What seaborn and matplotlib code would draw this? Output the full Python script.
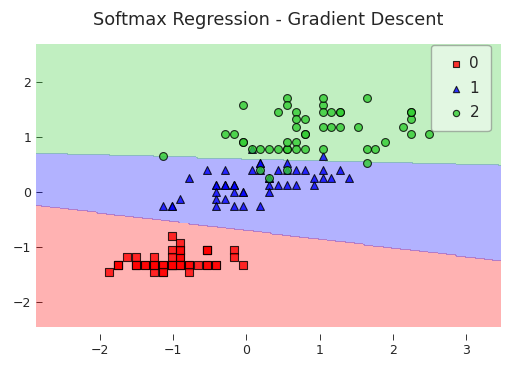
import numpy as np
import pandas as pd
import seaborn as sns
import matplotlib
matplotlib.use("Agg")
import matplotlib.pyplot as plt

# standardized iris features: sepal length (x) and petal width (y), per class
setosa_x = [-0.90, -1.14, -1.39, -1.51, -1.02, -0.54, -1.51, -1.02, -1.75, -1.14,
            -0.54, -1.26, -1.26, -1.87, -0.05, -0.17, -0.54, -0.90, -0.17, -0.90,
            -0.54, -0.90, -1.51, -0.90, -1.26, -1.02, -1.02, -0.78, -0.78, -1.39,
            -1.26, -0.54, -0.78, -0.42, -1.14, -1.02, -0.42, -1.14, -1.75, -0.90,
            -1.02, -1.63, -1.75, -1.02, -0.90, -1.26, -0.90, -1.51, -0.66, -1.02]
setosa_y = [-1.32, -1.32, -1.32, -1.32, -1.32, -1.05, -1.18, -1.32, -1.32, -1.45,
            -1.32, -1.32, -1.45, -1.45, -1.32, -1.05, -1.05, -1.18, -1.18, -1.18,
            -1.32, -1.05, -1.32, -0.92, -1.32, -1.32, -1.05, -1.32, -1.32, -1.32,
            -1.32, -1.05, -1.45, -1.32, -1.32, -1.32, -1.32, -1.45, -1.32, -1.32,
            -1.18, -1.18, -1.32, -0.79, -1.05, -1.18, -1.32, -1.32, -1.32, -1.32]

versicolor_x = [1.40, 0.67, 1.28, -0.42, 0.80, -0.17, 0.55, -1.14, 0.92, -0.78,
                -1.02, 0.07, 0.19, 0.31, -0.29, 1.04, -0.29, -0.05, 0.43, -0.29,
                0.07, 0.31, 0.55, 0.31, 0.67, 0.92, 1.16, 1.04, 0.19, -0.17,
                -0.42, -0.42, -0.05, 0.19, -0.54, 0.19, 1.04, 0.55, -0.29, -0.42,
                -0.42, 0.31, -0.05, -1.02, -0.29, -0.17, -0.17, 0.43, -0.90, -0.17]
versicolor_y = [0.26, 0.40, 0.40, 0.13, 0.40, 0.13, 0.53, -0.26, 0.13, 0.26,
                -0.26, 0.40, -0.26, 0.26, 0.13, 0.26, 0.40, -0.26, 0.40, -0.13,
                0.79, 0.13, 0.40, 0.00, 0.13, 0.26, 0.26, 0.66, 0.40, -0.26,
                -0.13, -0.26, 0.00, 0.53, 0.40, 0.53, 0.40, 0.13, 0.13, 0.13,
                0.00, 0.26, 0.00, -0.26, 0.13, 0.00, 0.13, 0.13, -0.13, 0.13]

virginica_x = [0.55, -0.05, 1.52, 0.55, 0.80, 2.13, -1.14, 1.76, 1.04, 1.64,
               0.80, 0.67, 1.16, -0.17, -0.05, 0.67, 0.80, 2.25, 2.25, 0.19,
               1.28, -0.29, 2.25, 0.55, 1.04, 1.64, 0.43, 0.31, 0.67, 1.64,
               1.89, 2.49, 0.67, 0.55, 0.31, 2.25, 0.55, 0.67, 0.19, 1.28,
               1.04, 1.28, -0.05, 1.16, 1.04, 1.04, 0.55, 0.80, 0.43, 0.07]
virginica_y = [1.71, 0.92, 1.19, 0.79, 1.32, 1.19, 0.66, 0.79, 0.79, 1.71,
               1.05, 0.92, 1.19, 1.05, 1.58, 1.45, 0.79, 1.32, 1.45, 0.40,
               1.45, 1.05, 1.05, 0.79, 1.19, 0.79, 0.79, 0.79, 1.19, 0.53,
               0.92, 1.05, 1.32, 0.40, 0.26, 1.45, 1.58, 0.79, 0.79, 1.19,
               1.58, 1.45, 0.92, 1.45, 1.71, 1.45, 0.92, 1.05, 1.45, 0.79]

class_labels = [0, 1, 2]
class_colors = ["red", "blue", "limegreen"]
class_markers = ["s", "^", "o"]

# learned decision boundaries (y = slope * x + intercept)
boundary_01 = (-0.159, -0.695)
boundary_12 = (-0.034, 0.607)

df = pd.DataFrame({
    "x": setosa_x + versicolor_x + virginica_x,
    "y": setosa_y + versicolor_y + virginica_y,
    "label": [0] * 50 + [1] * 50 + [2] * 50,
})

sns.set_style("white")
plt.rcParams["font.family"] = ["DejaVu Sans"]

fig, ax = plt.subplots(figsize=(5.11, 3.70), dpi=100)
fig.subplots_adjust(left=0.0705, right=0.980, top=0.881, bottom=0.116)

# decision regions on a grid
res = 0.02
x_min, x_max = df["x"].min() - 1, df["x"].max() + 1
y_min, y_max = df["y"].min() - 1, df["y"].max() + 1
xx, yy = np.meshgrid(np.arange(x_min, x_max, res), np.arange(y_min, y_max, res))
line01 = boundary_01[0] * xx + boundary_01[1]
line12 = boundary_12[0] * xx + boundary_12[1]
Z = np.where(yy < line01, 0, np.where(yy > line12, 2, 1))
ax.contourf(xx, yy, Z, levels=[-0.5, 0.5, 1.5, 2.5], colors=class_colors, alpha=0.3)
ax.set_xlim(xx.min(), xx.max())
ax.set_ylim(yy.min(), yy.max())

for lab, col, mk in zip(class_labels, class_colors, class_markers):
    sub = df[df["label"] == lab]
    sns.scatterplot(data=sub, x="x", y="y", color=col, marker=mk, s=32,
                    edgecolor="black", linewidth=0.8, alpha=0.8,
                    label=str(lab), legend=False, ax=ax)

ax.set_xlabel("")
ax.set_ylabel("")
ax.set_title("Softmax Regression - Gradient Descent", fontsize=12.8, pad=14)

for side in ["top", "right", "left", "bottom"]:
    ax.spines[side].set_visible(False)
ax.spines["bottom"].set_position(("outward", 5))
ax.set_xticks([-2, -1, 0, 1, 2, 3])
ax.set_yticks([-2, -1, 0, 1, 2])
ax.tick_params(axis="x", direction="out", length=4, width=0.7, color="#333333",
               labelsize=9, bottom=True)
ax.tick_params(axis="y", direction="in", length=4, width=0.7, color="#333333",
               labelsize=9, left=True)

leg = ax.legend(loc="upper right", bbox_to_anchor=(0.978, 0.9965), borderaxespad=0,
                fontsize=11, markerscale=0.8, handlelength=1.8, handletextpad=0.0,
                borderpad=0.75, labelspacing=0.6,
                frameon=True, framealpha=0.55, fancybox=True)
leg.get_frame().set_edgecolor("#777777")
leg.get_frame().set_linewidth(1.0)

plt.savefig("out.png", dpi=100)
